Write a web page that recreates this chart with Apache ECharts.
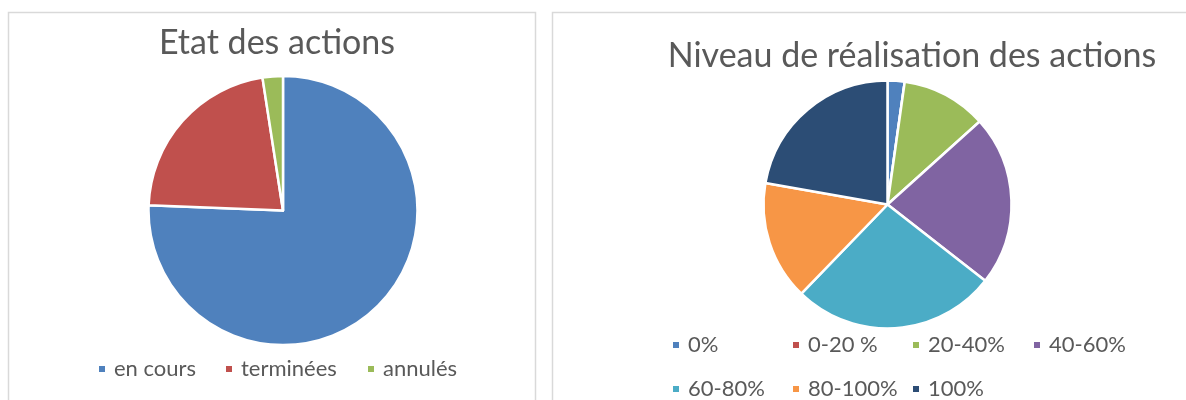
<!DOCTYPE html>
<html>
<head>
<meta charset="utf-8">
<title>Etat des actions</title>
<script src="https://cdn.jsdelivr.net/npm/echarts@6/dist/echarts.min.js"></script>
<style>
    html, body { margin: 0; padding: 0; background: #fff; }
    #chart { width: 1186px; height: 400px; }
</style>
</head>
<body>
<div id="chart"></div>
<script>
    "use strict";
    // data
    var etatLabels = ["en cours", "terminées", "annulés"];
    var etatValues = [31, 9, 1];
    var niveauLabels = ["0%", "0-20 %", "20-40%", "40-60%", "60-80%", "80-100%", "100%"];
    var niveauValues = [1, 0, 5, 10, 12, 7, 10];

    // office palette
    var etatColors = ["#4F81BD", "#C0504D", "#9BBB59"];
    var niveauColors = ["#4F81BD", "#C0504D", "#9BBB59", "#8064A2", "#4BACC6", "#F79646", "#2C4D75"];

    var textColor = "#595959";
    var font = "Lato, 'Open Sans', sans-serif";

    // legend slot of every item: [left, top]
    var etatLegendPos = [[97, 358], [224, 358], [366, 358]];
    var niveauLegendPos = [
        [671, 334], [791, 334], [911, 334], [1032, 334],
        [671, 378], [791, 378], [911, 378]
    ];

    var toPieData = function (labels, values, colors) {
        return labels.map(function (name, i) {
            return { name: name, value: values[i], itemStyle: { color: colors[i] } };
        });
    };

    var legends = [];
    var addLegends = function (labels, positions) {
        labels.forEach(function (name, i) {
            legends.push({
                left: positions[i][0],
                top: positions[i][1],
                padding: 0,
                orient: "horizontal",
                icon: "rect",
                itemWidth: 8,
                itemHeight: 8,
                selectedMode: false,
                data: [name],
                textStyle: {
                    color: textColor,
                    fontFamily: font,
                    fontSize: 22,
                    padding: [0, 0, 0, 3]
                }
            });
        });
    };
    addLegends(etatLabels, etatLegendPos);
    addLegends(niveauLabels, niveauLegendPos);

    var pieBase = {
        type: "pie",
        startAngle: 90,
        clockwise: true,
        silent: true,
        animation: false,
        label: { show: false },
        labelLine: { show: false },
        itemStyle: { borderColor: "#ffffff", borderWidth: 2.5 }
    };

    var titleStyle = { color: textColor, fontFamily: font, fontSize: 34, fontWeight: "normal" };

    var option = {
        backgroundColor: "#ffffff",
        animation: false,
        title: [
            {
                text: "Etat des actions",
                left: 272,
                top: 21,
                textAlign: "center",
                textStyle: titleStyle
            },
            {
                text: "Niveau de réalisation des actions",
                left: 907,
                top: 34,
                textAlign: "center",
                textStyle: titleStyle
            }
        ],
        legend: legends,
        graphic: [
            {
                type: "rect",
                silent: true,
                shape: { x: 8.5, y: 12.5, width: 527, height: 420 },
                style: { fill: null, stroke: "#d9d9d9", lineWidth: 1.5 }
            },
            {
                type: "rect",
                silent: true,
                shape: { x: 552.5, y: 12.5, width: 700, height: 420 },
                style: { fill: null, stroke: "#d9d9d9", lineWidth: 1.5 }
            }
        ],
        series: [
            Object.assign({}, pieBase, {
                name: "Etat des actions",
                center: [283, 210.5],
                radius: [0, 134.5],
                data: toPieData(etatLabels, etatValues, etatColors)
            }),
            Object.assign({}, pieBase, {
                name: "Niveau de réalisation des actions",
                center: [887.5, 204.5],
                radius: [0, 124],
                data: toPieData(niveauLabels, niveauValues, niveauColors)
            })
        ]
    };

    var chart = echarts.init(document.getElementById("chart"), null, { renderer: "canvas" });
    chart.setOption(option);
</script>
</body>
</html>
